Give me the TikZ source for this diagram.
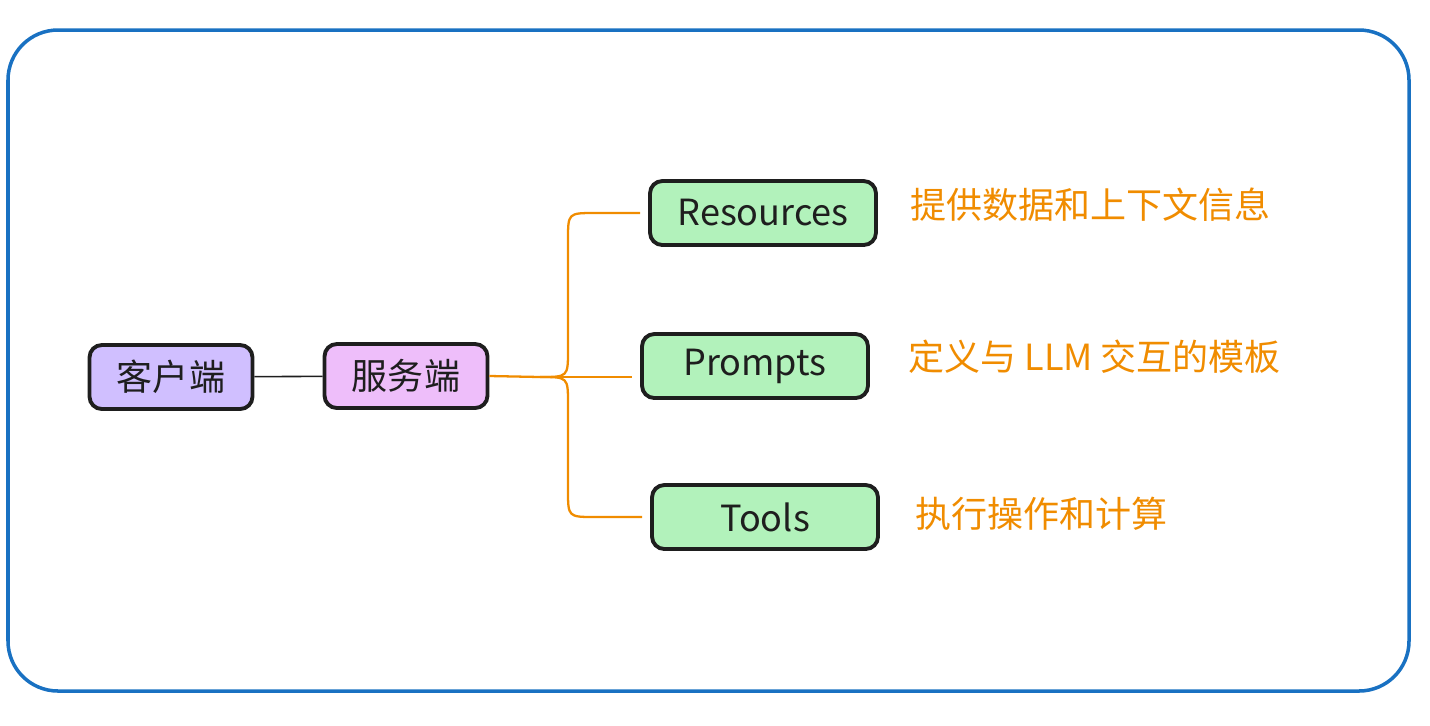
\documentclass[tikz,border=0pt]{standalone}
\usepackage{fontspec}
\usepackage{xcolor}
\newfontfamily\cjk{Noto Sans CJK SC}
\usetikzlibrary{positioning}

\definecolor{frameblue}{HTML}{1971C2}
\definecolor{inkblack}{HTML}{1E1E1E}
\definecolor{clientfill}{HTML}{D0BFFF}
\definecolor{serverfill}{HTML}{EEBEFA}
\definecolor{leaffill}{HTML}{B2F2BB}
\definecolor{noteorange}{HTML}{F08C00}

\tikzset{
  box/.style={draw=inkblack, line width=2.2pt, rounded corners=7pt,
    minimum height=1.28cm, inner sep=0pt, font=\cjk\fontsize{20.5}{24}\selectfont,
    text=inkblack},
  leaf/.style={box, fill=leaffill, minimum width=4.52cm},
  note/.style={anchor=west, text=noteorange, inner sep=0pt,
    font=\cjk\fontsize{20.5}{24}\selectfont},
  branch/.style={draw=noteorange, line width=1.3pt, shorten >=4.5pt}
}

\begin{document}
\begin{tikzpicture}[x=0.02cm, y=-0.02cm]
      \useasboundingbox (0,0) rectangle (1430,725);

      % Outer frame
      \draw[frameblue, line width=2pt, rounded corners=1cm] (8,30) rectangle (1409,691);

      % Define the nodes of the client and the server
      \node[box, fill=clientfill, minimum width=3.26cm] (client) at (171,377) {客户端};
      \node[box, fill=serverfill, minimum width=3.26cm] (server) at (406,376) {服务端};

      % Define the nodes of the server parts
      \node[leaf] (res) at (763,213) {Resources};
      \node[leaf] (prm) at (755,366) {Prompts};
      \node[leaf] (tls) at (765,517) {Tools};

      % Notes beside the server parts
      \node[note] (resnote) at (910,205) {提供数据和上下文信息};
      \node[note] (prmnote) at (908,357) {定义与 LLM 交互的模板};
      \node[note] (tlsnote) at (915,514) {执行操作和计算};

      % Draw the line between client and server
      \draw[inkblack, line width=0.9pt] (client) -- (server);

      % Draw the branches from the server
      \coordinate (fork) at (540,377);
      \draw[branch, shorten >=0pt] (server.east) -- (fork);
      \draw[branch] (fork) .. controls (568,377) .. (568,350) -- (568,240)
            .. controls (568,213) .. (595,213) -- (res.west);
      \draw[branch] (fork) -- (fork -| prm.west);
      \draw[branch] (fork) .. controls (568,377) .. (568,404) -- (568,490)
            .. controls (568,517) .. (595,517) -- (tls.west);
\end{tikzpicture}
\end{document}
